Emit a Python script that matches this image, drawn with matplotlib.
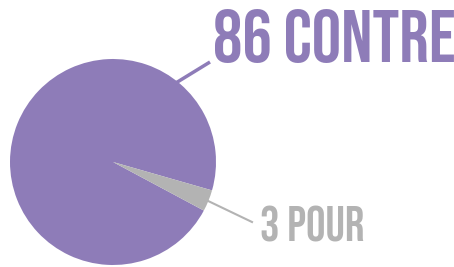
import matplotlib
matplotlib.use("Agg")
import matplotlib.pyplot as plt
import numpy as np

labels = ["CONTRE", "POUR"]
values = [86, 3]
colors = ["#8e7cb8", "#b3b3b3"]

W, H = 454, 267
fig = plt.figure(figsize=(W/100, H/100), dpi=100)
ax = fig.add_axes([0, 0, 1, 1])

cx, cy, r = 113, H-162, 103
ax.pie(values, colors=colors, startangle=-16, counterclock=True,
       center=(cx, cy), radius=r, frame=True,
       wedgeprops=dict(linewidth=0))
ax.set_xlim(0, W)
ax.set_ylim(0, H)
ax.set_aspect("equal")
ax.axis("off")

font = ["Bebas Neue", "DejaVu Sans"]
# leader line for CONTRE
a = np.deg2rad(51.5)
x0, y0 = cx + r*np.cos(a), cy + r*np.sin(a)
ax.plot([x0 - 2, 210], [y0 - 2, H-62], color=colors[0], lw=2.5, solid_capstyle="butt")
ax.text(213, H-62, f"{values[0]} {labels[0]}", color=colors[0], fontsize=53,
        family=font, ha="left", va="baseline")

a2 = np.deg2rad(-22)
x1, y1 = cx + r*0.92*np.cos(a2), cy + r*0.92*np.sin(a2)
ax.plot([x1, 252], [y1, H-222], color=colors[1], lw=1.5)
ax.text(260, H-242, f"{values[1]} {labels[1]}", color=colors[1], fontsize=35,
        family=font, ha="left", va="baseline")

fig.savefig("out.png", dpi=100)
